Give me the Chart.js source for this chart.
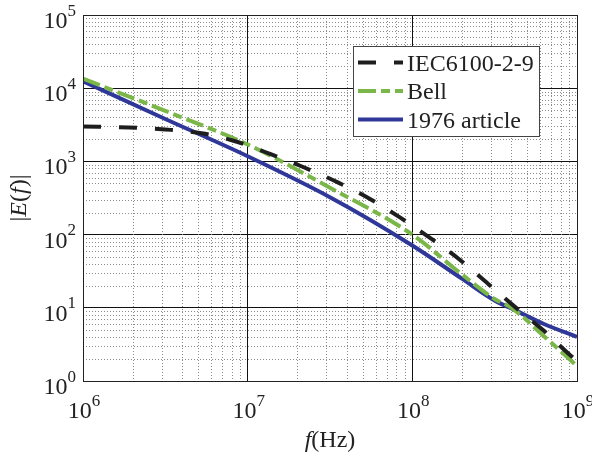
<!DOCTYPE html>
<html>
<head>
<meta charset="utf-8">
<script src="https://cdn.jsdelivr.net/npm/chart.js@4.4.0/dist/chart.umd.min.js"></script>
<style>
  html, body { margin: 0; padding: 0; background: #fff; }
  canvas { display: block; }
  .fontwarm { position: absolute; left: -9999px; top: 0; font-family: "Liberation Serif"; font-size: 24px; }
</style>
</head>
<body>
<span class="fontwarm">10 <i>f</i>(Hz)</span>
<canvas id="fieldChart" width="592" height="459"></canvas>
<script>
// values: frequency (Hz) and |E(f)|
const iecFreq = [1e6, 1.9e6, 3.16e6, 5.25e6, 8.1e6, 1.38e7, 2.19e7, 3.55e7, 5.5e7, 8.5e7, 1.32e8, 1.95e8, 2.9e8, 4.2e8, 6.3e8, 9.1e8, 1e9];
const iecField = [3000, 2900, 2730, 2430, 1930, 1256, 832, 513, 309, 169, 86, 45, 21, 10.3, 4.84, 2.25, 1.9];

const bellFreq = [1e6, 3.16e6, 1e7, 3.16e7, 1e8, 2e8, 3.16e8, 4e8, 6.3e8, 1e9];
const bellField = [13500, 4900, 1700, 437, 100, 28.6, 13.2, 10, 4.1, 1.6];

const articleFreq = [1e6, 3.16e6, 1e7, 3.16e7, 1e8, 2e8, 3.16e8, 4.2e8, 6.3e8, 1e9];
const articleField = [12400, 3800, 1175, 324, 71, 25, 12.6, 9.3, 6.0, 4.0];

const seriesNames = ['IEC6100-2-9', 'Bell', '1976 article'];

const xDecades = [1e6, 1e7, 1e8, 1e9];
const xTickExp = ['6', '7', '8', '9'];
const yDecades = [1e0, 1e1, 1e2, 1e3, 1e4, 1e5];
const yTickExp = ['0', '1', '2', '3', '4', '5'];

const serif = '"Liberation Serif", serif';
const textColor = '#222';

function toPoints(xs, ys) {
    return xs.map((x, i) => ({ x: x, y: ys[i] }));
}

// 10^n label: "10" plus a raised exponent
function drawPower(ctx, exp, left, baseline) {
    ctx.font = '24px ' + serif;
    const baseW = ctx.measureText('10').width;
    ctx.fillText('10', left, baseline);
    ctx.font = '17px ' + serif;
    ctx.fillText(exp, left + baseW, baseline - 12.5);
}
function powerWidth(ctx, exp) {
    ctx.font = '24px ' + serif;
    const a = ctx.measureText('10').width;
    ctx.font = '17px ' + serif;
    return a + ctx.measureText(exp).width;
}

// draw text pieces in a row, some italic
function drawPieces(ctx, pieces, x, y) {
    let cx = x;
    pieces.forEach(p => {
        ctx.font = (p[1] ? 'italic ' : '') + '24px ' + serif;
        ctx.fillText(p[0], cx, y);
        cx += ctx.measureText(p[0]).width;
    });
}
function piecesWidth(ctx, pieces) {
    let w = 0;
    pieces.forEach(p => {
        ctx.font = (p[1] ? 'italic ' : '') + '24px ' + serif;
        w += ctx.measureText(p[0]).width;
    });
    return w;
}

const matlabLook = {
    id: 'matlabLook',
    beforeDatasetsDraw(chart) {
        const ctx = chart.ctx;
        const area = chart.chartArea;
        const xs = chart.scales.x, ys = chart.scales.y;
        ctx.save();
        ctx.strokeStyle = '#8c8c8c';
        ctx.lineWidth = 1;
        ctx.setLineDash([1, 2]);
        // minor grid, 2..9 in every decade
        for (let d = 0; d < xDecades.length - 1; d++) {
            for (let k = 2; k <= 9; k++) {
                const px = Math.round(xs.getPixelForValue(xDecades[d] * k)) + 0.5;
                ctx.beginPath();
                ctx.moveTo(px, area.top);
                ctx.lineTo(px, area.bottom);
                ctx.stroke();
            }
        }
        for (let d = 0; d < yDecades.length - 1; d++) {
            for (let k = 2; k <= 9; k++) {
                const py = Math.round(ys.getPixelForValue(yDecades[d] * k)) + 0.5;
                ctx.beginPath();
                ctx.moveTo(area.left, py);
                ctx.lineTo(area.right, py);
                ctx.stroke();
            }
        }
        ctx.restore();
    },
    afterDraw(chart) {
        const ctx = chart.ctx;
        const area = chart.chartArea;
        const xs = chart.scales.x, ys = chart.scales.y;
        ctx.save();

        // box round the axes
        ctx.strokeStyle = '#222';
        ctx.lineWidth = 1;
        ctx.strokeRect(Math.round(area.left) + 0.5, Math.round(area.top) + 0.5,
            Math.round(area.right - area.left), Math.round(area.bottom - area.top));

        ctx.fillStyle = textColor;
        ctx.textBaseline = 'alphabetic';
        ctx.textAlign = 'left';

        // tick labels
        yDecades.forEach((v, i) => {
            const py = ys.getPixelForValue(v);
            const w = powerWidth(ctx, yTickExp[i]);
            drawPower(ctx, yTickExp[i], 76 - w, py + 13);
        });
        xDecades.forEach((v, i) => {
            const px = xs.getPixelForValue(v);
            const w = powerWidth(ctx, xTickExp[i]);
            drawPower(ctx, xTickExp[i], px - w / 2 + 1, 418);
        });

        // axis titles
        const xTitle = [['f', true], ['(Hz)', false]];
        const midX = (area.left + area.right) / 2;
        drawPieces(ctx, xTitle, midX - piecesWidth(ctx, xTitle) / 2, 447);

        const yTitle = [['|', false], ['E', true], ['(', false], ['f', true], [')|', false]];
        const midY = (area.top + area.bottom) / 2;
        ctx.translate(26, midY);
        ctx.rotate(-Math.PI / 2);
        drawPieces(ctx, yTitle, -piecesWidth(ctx, yTitle) / 2, 0);
        ctx.setTransform(1, 0, 0, 1, 0, 0);

        // legend box
        const lx = 353.5, ly = 46.5, lw = 186, lh = 90;
        ctx.fillStyle = '#fff';
        ctx.fillRect(lx, ly, lw, lh);
        ctx.strokeStyle = '#444';
        ctx.lineWidth = 1;
        ctx.strokeRect(lx, ly, lw, lh);
        const rows = [62.5, 91, 119.5];
        chart.data.datasets.forEach((ds, i) => {
            ctx.strokeStyle = ds.borderColor;
            ctx.lineWidth = ds.borderWidth;
            ctx.lineCap = 'butt';
            ctx.setLineDash(ds.borderDash || []);
            ctx.beginPath();
            ctx.moveTo(358, rows[i]);
            ctx.lineTo(403, rows[i]);
            ctx.stroke();
            ctx.setLineDash([]);
            ctx.fillStyle = textColor;
            ctx.font = '24px ' + serif;
            ctx.fillText(ds.label, 407, rows[i] + 8);
        });
        ctx.restore();
    }
};

const fieldChartData = {
    datasets: [{
        label: seriesNames[0],
        data: toPoints(iecFreq, iecField),
        borderColor: '#1e1e1e',
        borderWidth: 4,
        borderDash: [18, 18],
        pointRadius: 0,
        cubicInterpolationMode: 'monotone'
    }, {
        label: seriesNames[1],
        data: toPoints(bellFreq, bellField),
        borderColor: '#7ab648',
        borderWidth: 4,
        borderDash: [18, 5, 9, 5],
        pointRadius: 0,
        cubicInterpolationMode: 'monotone'
    }, {
        label: seriesNames[2],
        data: toPoints(articleFreq, articleField),
        borderColor: '#2f3899',
        borderWidth: 4,
        pointRadius: 0,
        cubicInterpolationMode: 'monotone'
    }]
};

const fieldChartOptions = {
    responsive: false,
    animation: false,
    devicePixelRatio: 1,
    layout: { padding: { left: 83, top: 15, right: 15, bottom: 78 } },
    plugins: {
        legend: { display: false },
        tooltip: { enabled: false }
    },
    scales: {
        x: {
            type: 'logarithmic',
            min: 1e6,
            max: 1e9,
            afterBuildTicks: (scale) => { scale.ticks = xDecades.map(v => ({ value: v })); },
            ticks: { display: false },
            grid: { color: '#111', lineWidth: 1, drawTicks: false },
            border: { display: true, color: '#222', width: 1 }
        },
        y: {
            type: 'logarithmic',
            min: 1e0,
            max: 1e5,
            afterBuildTicks: (scale) => { scale.ticks = yDecades.map(v => ({ value: v })); },
            ticks: { display: false },
            grid: { color: '#111', lineWidth: 1, drawTicks: false },
            border: { display: true, color: '#222', width: 1 }
        }
    }
};

const fieldChartConfig = {
    type: 'line',
    data: fieldChartData,
    options: fieldChartOptions,
    plugins: [matlabLook]
};

// make sure the serif face is ready before the canvas text is drawn
Promise.all([
    document.fonts.load('24px "Liberation Serif"'),
    document.fonts.load('italic 24px "Liberation Serif"')
]).catch(() => {}).then(() => {
    new Chart(document.getElementById('fieldChart'), fieldChartConfig);
});
</script>
</body>
</html>
